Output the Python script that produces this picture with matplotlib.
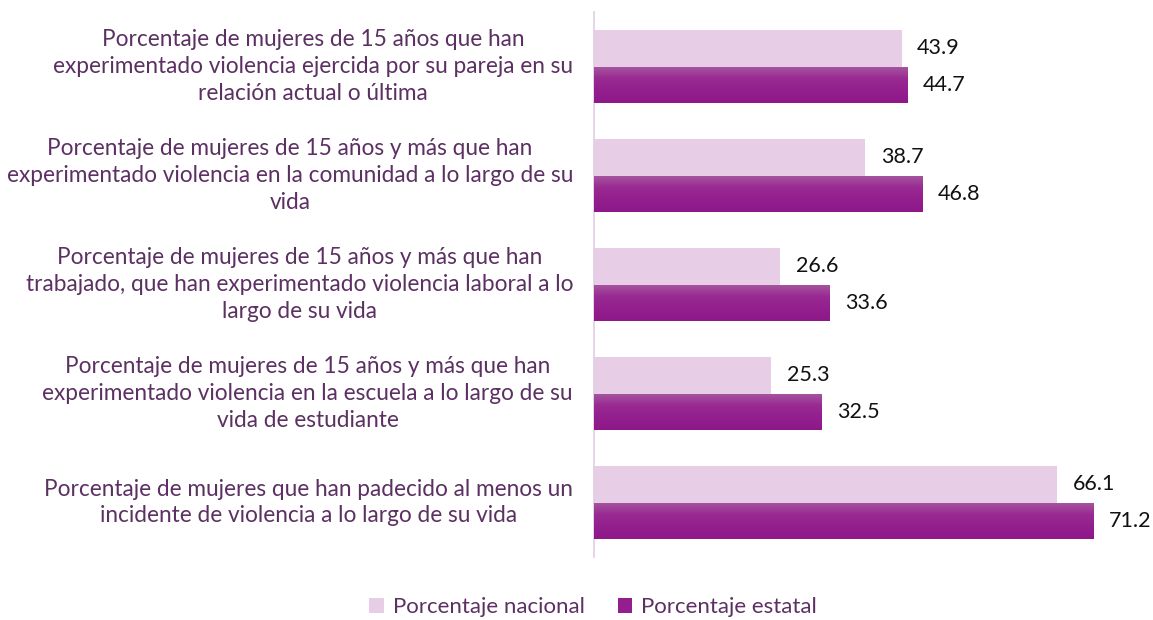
import matplotlib
matplotlib.use("Agg")
import matplotlib.pyplot as plt
import numpy as np
from matplotlib.colors import LinearSegmentedColormap
from matplotlib.patches import Patch
import matplotlib.transforms as mtransforms

categories = [
    "Porcentaje de mujeres de 15 años que han\nexperimentado violencia ejercida por su pareja en su\nrelación actual o última",
    "Porcentaje de mujeres de 15 años y más que han\nexperimentado violencia en la comunidad a lo largo de su\nvida",
    "Porcentaje de mujeres de 15 años y más que han\ntrabajado, que han experimentado violencia laboral a lo\nlargo de su vida",
    "Porcentaje de mujeres de 15 años y más que han\nexperimentado violencia en la escuela a lo largo de su\nvida de estudiante",
    "Porcentaje de mujeres que han padecido al menos un\nincidente de violencia a lo largo de su vida",
]
nacional = [43.9, 38.7, 26.6, 25.3, 66.1]
estatal = [44.7, 46.8, 33.6, 32.5, 71.2]
series_names = ["Porcentaje nacional", "Porcentaje estatal"]

plt.rcParams['font.family'] = ['Lato', 'DejaVu Sans']
label_color = '#5c3063'
c_nac = '#e8cde6'
c_est = '#931f8e'

fig = plt.figure(figsize=(11.53, 6.2), dpi=100)
ax = fig.add_axes([594/1153, 1-557/620, 1-594/1153, (557-12)/620])

y = np.arange(len(categories))
h = 0.335
bars_n = ax.barh(y - h/2, nacional, height=h, color=c_nac, zorder=2)
bars_e = ax.barh(y + h/2, estatal, height=h, color=c_est, zorder=2)

cmap = LinearSegmentedColormap.from_list('g', ['#a6579f', '#992a92', '#931f8e', '#8e1889'])
grad = np.linspace(0, 1, 64).reshape(-1, 1)
for p in bars_e:
    x0, y0 = p.get_x(), p.get_y()
    w, hh = p.get_width(), p.get_height()
    im = ax.imshow(grad, cmap=cmap, aspect='auto', extent=[x0, x0 + w, y0 + hh, y0],
                   origin='upper', zorder=3, interpolation='bilinear')
    im.set_clip_path(p)

ax.set_xlim(0, 559/7.01)
ax.set_ylim(len(categories) - 0.5, -0.5)

for b, v in zip(bars_n, nacional):
    ax.text(v + 2.2, b.get_y() + b.get_height()/2, f"{v:.1f}", va='center', ha='left',
            fontsize=15.5, color='#111111', zorder=4)
for b, v in zip(bars_e, estatal):
    ax.text(v + 2.2, b.get_y() + b.get_height()/2, f"{v:.1f}", va='center', ha='left',
            fontsize=15.5, color='#111111', zorder=4)

trans = mtransforms.blended_transform_factory(fig.transFigure, ax.transData)
for i, c in enumerate(categories):
    ax.text(573/1153, i, c, transform=trans, ha='right', va='center', multialignment='center',
            fontsize=16.3, color=label_color, linespacing=1.33)

ax.set_xticks([])
ax.set_yticks([])
for s in ['top', 'right', 'bottom']:
    ax.spines[s].set_visible(False)
ax.spines['left'].set_color('#e2cde2')
ax.spines['left'].set_linewidth(1.2)

handles = [Patch(facecolor=c_nac, edgecolor='none'), Patch(facecolor=c_est, edgecolor='none')]
leg = fig.legend(handles, series_names, loc='center', bbox_to_anchor=(593/1153, 1-607/620),
                 ncol=2, frameon=False, fontsize=16, handlelength=0.65, handleheight=0.65,
                 handletextpad=0.4, columnspacing=1.5)
for t in leg.get_texts():
    t.set_color(label_color)

fig.savefig("out.png", dpi=100)
